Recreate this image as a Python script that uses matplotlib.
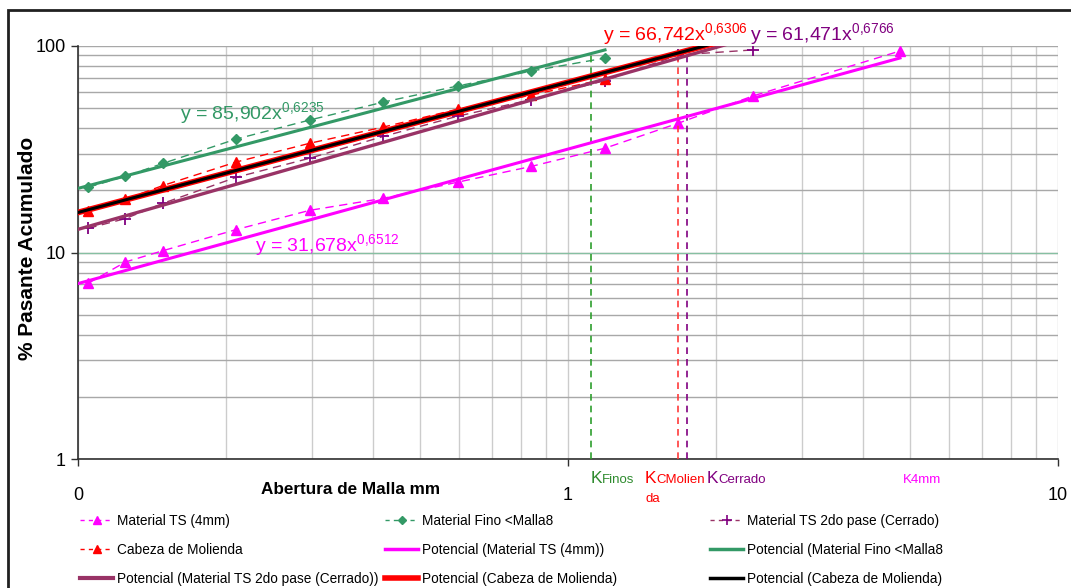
import numpy as np
import matplotlib
matplotlib.use('Agg')
import matplotlib.pyplot as plt
from matplotlib import font_manager
from matplotlib.lines import Line2D
from matplotlib.ticker import FixedLocator, FixedFormatter, LogLocator, NullFormatter


def pick_font(*names):
    for name in names:
        try:
            font_manager.findfont(font_manager.FontProperties(family=name),
                                  fallback_to_default=False)
            return name
        except ValueError:
            pass
    return 'DejaVu Sans'


FONT = pick_font('Liberation Sans Narrow', 'Liberation Sans', 'Arial')
plt.rcParams['font.family'] = [FONT, 'DejaVu Sans']
plt.rcParams['mathtext.fontset'] = 'custom'
plt.rcParams['mathtext.rm'] = FONT
plt.rcParams['mathtext.it'] = FONT

W, H = 1071, 588

# abertura de tamiz (mm)
mesh_mm = [0.105, 0.125, 0.149, 0.21, 0.297, 0.42, 0.595, 0.841, 1.19, 1.68, 2.38, 4.76]

# % pasante acumulado por muestra
ts_4mm = [7.1, 9.0, 10.2, 12.9, 16.0, 18.3, 21.9, 26.1, 32.0, 42.3, 57.2, 94.6]
fino_malla8 = [20.7, 23.4, 27.0, 35.4, 43.8, 53.5, 64.0, 75.6, 87.4]
ts_cerrado = [13.1, 14.6, 17.3, 23.1, 28.6, 36.5, 45.7, 55.0, 68.0, 90.5, 95.7]
cabeza = [15.8, 18.1, 21.1, 27.4, 33.8, 40.5, 49.4, 57.8, 69.2]

# ajuste potencial y = a x^b (coeficientes de las etiquetas)
fit_ts_4mm = (31.678, 0.6512)
fit_fino = (85.902, 0.6235)
fit_cerrado = (61.471, 0.6766)
fit_cabeza = (66.742, 0.6306)

# valores K (mm) y altura de la linea vertical
k_mm = [1.112, 1.68, 1.75]
k_top = [91, 90, 92]

MAGENTA = '#FF00FF'
GREEN = '#339966'
KGREEN = '#2e8b2e'
PURPLE = '#800080'
PLUM = '#993366'
RED = '#FF0000'


def px(x, y):
    return x / W, 1 - y / H


def power_fit(coef, x_end):
    a, b = coef
    xs = np.array([0.1, x_end])
    return xs, a * xs ** b


fig = plt.figure(figsize=(W / 100, H / 100), dpi=100)
ax = fig.add_axes([78 / W, (H - 459) / H, (1058 - 78) / W, (459 - 46) / H])
ax.set_xscale('log')
ax.set_yscale('log')

# grid
ax.xaxis.set_minor_locator(LogLocator(base=10, subs=np.arange(2, 10)))
ax.yaxis.set_minor_locator(LogLocator(base=10, subs=np.arange(2, 10)))
ax.xaxis.grid(True, which='both', color='#cccccc', lw=1)
ax.yaxis.grid(True, which='both', color='#a8a8a8', lw=1)
ax.set_axisbelow(True)
ax.axhline(10, color='#86c0a2', lw=0.9, zorder=1)

dash = (0, (6, 4))
ax.plot(mesh_mm[:len(ts_4mm)], ts_4mm, ls=dash, lw=1, color=MAGENTA,
        marker='^', ms=7, zorder=3)
ax.plot(mesh_mm[:len(fino_malla8)], fino_malla8, ls=dash, lw=1, color=GREEN,
        marker='D', ms=5, zorder=3)
ax.plot(mesh_mm[:len(ts_cerrado)], ts_cerrado, ls=dash, lw=1, color=PLUM,
        marker='+', ms=9, mew=1.3, mec=PURPLE, zorder=3)
ax.plot(mesh_mm[:len(cabeza)], cabeza, ls=dash, lw=1, color=RED,
        marker='^', ms=7, zorder=3)

# lineas de tendencia
x, y = power_fit(fit_ts_4mm, mesh_mm[len(ts_4mm) - 1])
ax.plot(x, y, color=MAGENTA, lw=2.2, zorder=4)
x, y = power_fit(fit_fino, mesh_mm[len(fino_malla8) - 1])
ax.plot(x, y, color=GREEN, lw=2.2, zorder=4)
x, y = power_fit(fit_cerrado, mesh_mm[len(ts_cerrado) - 1])
ax.plot(x, y, color=PLUM, lw=2.4, zorder=4)
x, y = power_fit(fit_cabeza, mesh_mm[len(ts_cerrado) - 1])
ax.plot(x, y, color=RED, lw=4.2, zorder=5)
ax.plot(x, y, color='black', lw=2.2, zorder=6)

# lineas K
for xk, top, c in zip(k_mm, k_top, ['#2e9e2e', '#ff3b3b', PURPLE]):
    ax.plot([xk, xk], [1, top], ls=(0, (4, 3)), lw=1.2, color=c, zorder=3,
            clip_on=False)

ax.set_xlim(0.1, 10)
ax.set_ylim(1, 100)

ax.xaxis.set_major_locator(FixedLocator([0.1, 1, 10]))
ax.xaxis.set_major_formatter(FixedFormatter(['0', '1', '10']))
ax.xaxis.set_minor_formatter(NullFormatter())
ax.yaxis.set_major_locator(FixedLocator([1, 10, 100]))
ax.yaxis.set_major_formatter(FixedFormatter(['1', '10', '100']))
ax.yaxis.set_minor_formatter(NullFormatter())
ax.tick_params(which='minor', length=0)
ax.tick_params(axis='both', which='major', direction='out', length=5,
               width=1, color='#303030', labelsize=13, labelcolor='black')
ax.tick_params(axis='x', pad=15)
ax.tick_params(axis='y', pad=4)
for side in ['top', 'right']:
    ax.spines[side].set_visible(False)
for side in ['left', 'bottom']:
    ax.spines[side].set_color('#303030')
    ax.spines[side].set_linewidth(1.2)

# titulos de ejes
fig.text(*px(28, 248), '% Pasante Acumulado', rotation=90, ha='center',
         va='center', fontsize=15, fontweight='bold')
fig.text(*px(351, 490), 'Abertura de Malla mm', ha='center', va='center',
         fontsize=12.3, fontweight='bold')

# ecuaciones
eqs = [
    (180, 119, fit_fino, GREEN),
    (255, 251, fit_ts_4mm, MAGENTA),
    (603, 40, fit_cabeza, RED),
    (750, 40, fit_cerrado, PURPLE),
]
for xp, yp, (a, b), c in eqs:
    sa = f'{a:.3f}'.replace('.', ',')
    sb = f'{b:.4f}'.replace('.', '{,}')
    fig.text(*px(xp, yp), f'y = {sa}x$^{{{sb}}}$', color=c, fontsize=14,
             ha='left', va='baseline')

# etiquetas K
fig.text(*px(591, 483), 'K', color=KGREEN, fontsize=12.5, va='baseline')
fig.text(*px(602, 483), 'Finos', color=KGREEN, fontsize=9.5, va='baseline')
fig.text(*px(645, 483), 'K', color=RED, fontsize=12.5, va='baseline')
fig.text(*px(656, 483), 'CMolien', color=RED, fontsize=9.5, va='baseline')
fig.text(*px(645, 502), 'da', color=RED, fontsize=9.5, va='baseline')
fig.text(*px(707, 483), 'K', color=PURPLE, fontsize=12.5, va='baseline')
fig.text(*px(718, 483), 'Cerrado', color=PURPLE, fontsize=9.5, va='baseline')
fig.text(*px(903, 483), 'K4mm', color=MAGENTA, fontsize=9.5, va='baseline')

# leyenda (tres columnas)
hd = (0, (3, 3))
h_ts = Line2D([], [], ls=hd, lw=1, color=MAGENTA, marker='^', ms=6)
h_fino = Line2D([], [], ls=hd, lw=1, color=GREEN, marker='D', ms=4)
h_cer = Line2D([], [], ls=hd, lw=1, color=PLUM, marker='+', ms=7, mew=1.2,
               mec=PURPLE)
h_cab = Line2D([], [], ls=hd, lw=1, color=RED, marker='^', ms=6)
h_pts = Line2D([], [], color=MAGENTA, lw=2.5)
h_pfino = Line2D([], [], color=GREEN, lw=2.5)
h_pcer = Line2D([], [], color=PLUM, lw=3)
h_pcab_r = Line2D([], [], color=RED, lw=4)
h_pcab_k = Line2D([], [], color='black', lw=2.5)

columns = [
    (80, [h_ts, h_cab, h_pcer],
     ['Material TS (4mm)', 'Cabeza de Molienda',
      'Potencial (Material TS 2do pase (Cerrado))']),
    (385, [h_fino, h_pts, h_pcab_r],
     ['Material Fino <Malla8', 'Potencial (Material TS (4mm))',
      'Potencial (Cabeza de Molienda)']),
    (710, [h_cer, h_pfino, h_pcab_k],
     ['Material TS 2do pase (Cerrado)', 'Potencial (Material Fino <Malla8',
      'Potencial (Cabeza de Molienda)']),
]
for xp, handles, labels in columns:
    fig.legend(handles, labels, loc='upper left',
               bbox_to_anchor=px(xp, 514), frameon=False,
               fontsize=9.8, handlelength=2.45, handletextpad=0.3,
               labelspacing=1.1, borderpad=0, borderaxespad=0)

# marco del grafico
fig.add_artist(plt.Rectangle(px(8, 600), 1.2, (600 - 10) / H, fill=False,
                             lw=2, ec='#202020', transform=fig.transFigure))

fig.savefig('out.png', dpi=100)
